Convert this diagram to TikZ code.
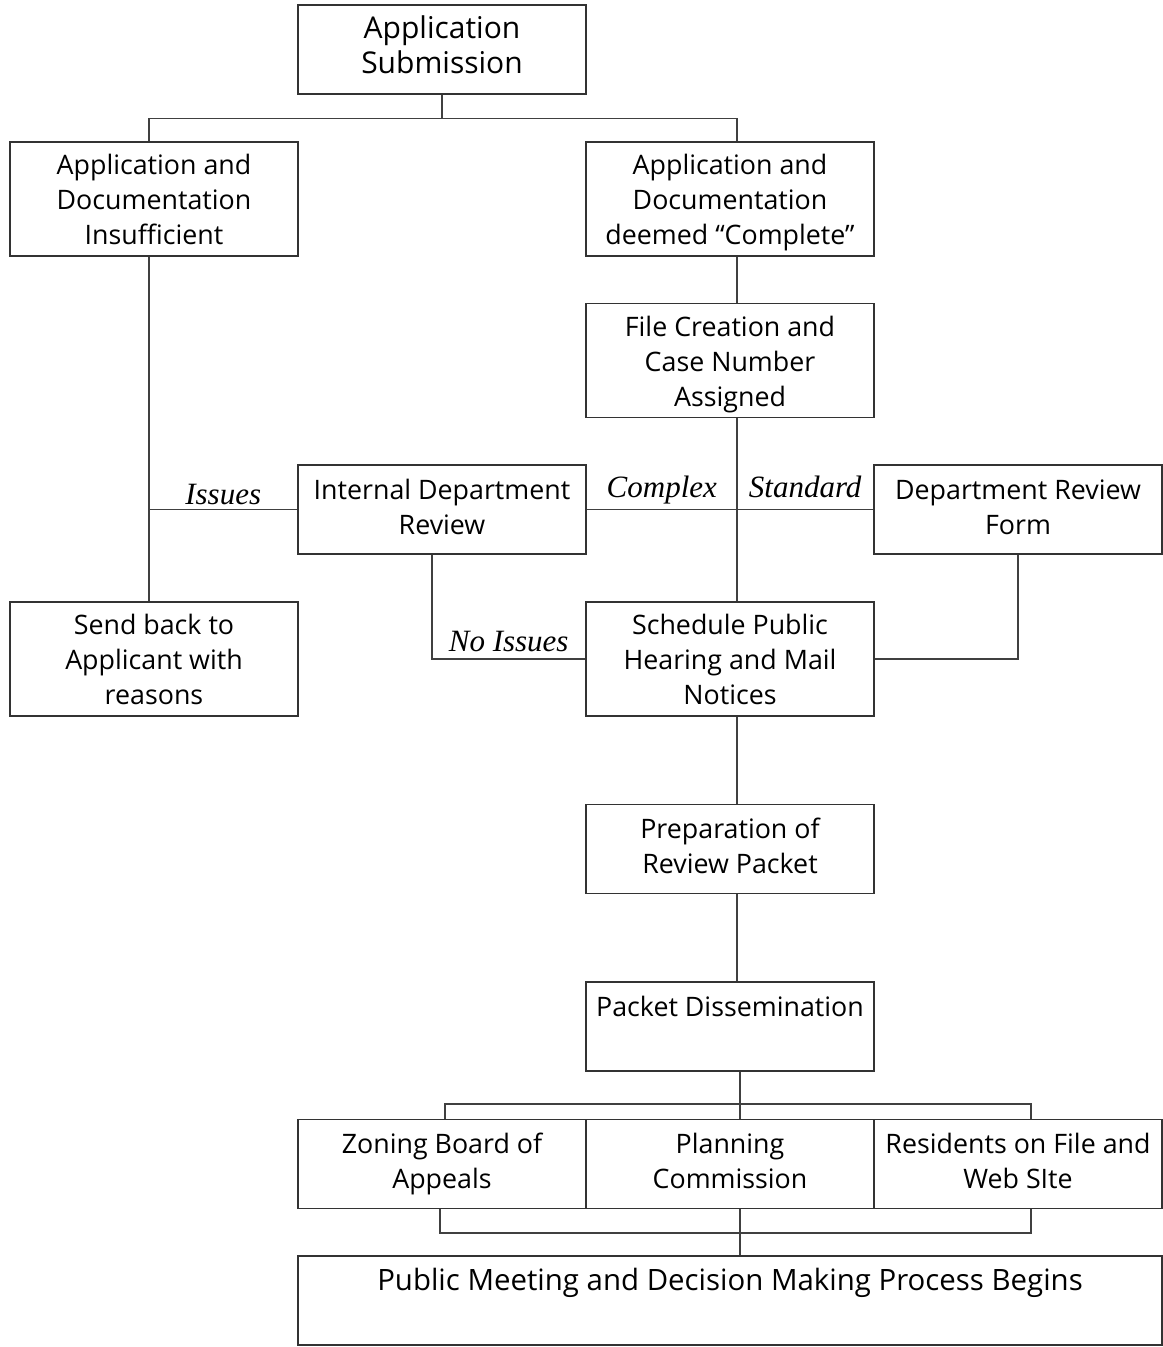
\documentclass[tikz,border=0pt]{standalone}
\usepackage{fontspec}
\setmainfont{Open Sans}
\newfontfamily\labelfont{Liberation Serif}

\begin{document}
\begin{tikzpicture}[
    x=0.5pt, y=-0.5pt,
    box/.style={
        rectangle,
        minimum width=144pt,
        minimum height=44.5pt,
        text width=140pt,
        draw=black!80,
        line width=0.6pt,
        font=\fontsize{13.4}{17.5}\selectfont,
        align=flush center,
        inner sep=0pt,
        execute at begin node=\strut,
        execute at end node=\strut
    },
    tall/.style={minimum height=57pt, execute at begin node=\rule{0pt}{16pt}},
    big/.style={font=\fontsize{15}{17.5}\selectfont},
    cond/.style={
        font=\labelfont\itshape\fontsize{15.5}{18}\selectfont,
        inner sep=0pt,
        text depth=0pt
    },
    link/.style={draw=black!75, line width=0.6pt}
]

\useasboundingbox (0,0) rectangle (1162,1347);

\node[box, big] (sub) at (442,49.5) {Application\\Submission};
\node[box, tall] (insuf) at (154,199) {Application and\\Documentation\\Insufficient};
\node[box, tall] (compl) at (730,199) {Application and\\Documentation\\deemed “Complete”};
\node[box, tall] (file) at (730,360.5) {File Creation and\\Case Number\\Assigned};
\node[box] (idr) at (442,509.5) {Internal Department\\Review};
\node[box] (drf) at (1018,509.5) {Department Review\\Form};
\node[box, tall] (send) at (154,659) {Send back to\\Applicant with\\reasons};
\node[box, tall] (sched) at (730,659) {Schedule Public\\Hearing and Mail\\Notices};
\node[box] (prep) at (730,849) {Preparation of\\Review Packet};
\node[box] (diss) at (730,1026.5) {Packet Dissemination\\};
\node[box] (zba) at (442,1164) {Zoning Board of\\Appeals};
\node[box] (plan) at (730,1164) {Planning\\Commission};
\node[box] (res) at (1018,1164) {Residents on File and\\Web SIte};
\node[box, font=\fontsize{14.7}{17.5}\selectfont, minimum width=432pt, text width=428pt] (meet) at (730,1300.5) {Public Meeting and Decision Making Process Begins\\};

\coordinate (colL) at (149,0);
\coordinate (colR) at (737,0);
\coordinate (colN) at (432,0);
\coordinate (colM) at (740,0);
\coordinate (fan) at (740,1104);
\coordinate (merge) at (740,1233);

\draw[link] (sub.south) -- ++(0,24) coordinate (fork);
\draw[link] (insuf.north -| colL) |- (fork) -| (compl.north -| colR);
\draw[link] (compl.south -| colR) -- (file.north -| colR);
\draw[link] (insuf.south -| colL) -- (send.north -| colL);
\draw[link] (idr.west) -- (idr.west -| colL) node[cond, midway, above=2pt] (issues) {Issues};
\draw[link] (file.south -| colR) -- (sched.north -| colR);
\draw[link] (idr.east) -- (idr.east -| colR) node[cond, midway, above=5.5pt] (complex) {Complex}
    -- (drf.west) node[cond, midway, above=5.5pt] (standard) {Standard};
\draw[link] (idr.south -| colN) |- (sched.west) node[cond, pos=0.75, above=3.5pt] (noissues) {No Issues};
\draw[link] (drf.south) |- (sched.east);
\draw[link] (sched.south -| colR) -- (prep.north -| colR);
\draw[link] (prep.south -| colR) -- (diss.north -| colR);
\draw[link] (diss.south -| colM) -- (plan.north -| colM);
\draw[link] ([xshift=1.5pt]zba.north) |- (fan) -| ([xshift=6.5pt]res.north);
\draw[link] (plan.south -| colM) -- (meet.north -| colM);
\draw[link] ([xshift=-1pt]zba.south) |- (merge) -| ([xshift=6.5pt]res.south);

\end{tikzpicture}
\end{document}
